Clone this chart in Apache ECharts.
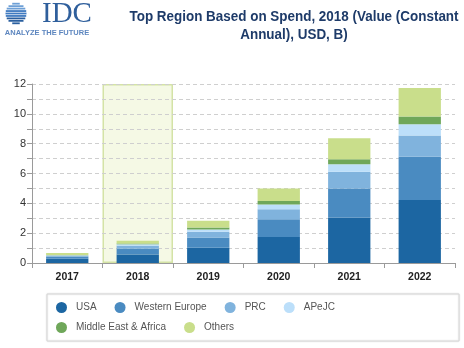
<!DOCTYPE html>
<html>
<head>
<meta charset="utf-8">
<script src="https://cdn.jsdelivr.net/npm/echarts@6/dist/echarts.min.js"></script>
<style>
  html, body { margin: 0; padding: 0; background: #fff; }
  #chart { width: 464px; height: 348px; }
</style>
</head>
<body>
<div id="chart"></div>
<script>
// Spend by region, constant annual USD, billions
const years = ['2017', '2018', '2019', '2020', '2021', '2022'];
const usa           = [0.29, 0.57, 1.03, 1.75, 3.05, 4.22];
const westernEurope = [0.14, 0.38, 0.68, 1.19, 1.95, 2.91];
const prc           = [0.06, 0.21, 0.38, 0.67, 1.12, 1.41];
const apejc         = [0.03, 0.09, 0.16, 0.32, 0.50, 0.77];
const mea           = [0.02, 0.05, 0.13, 0.22, 0.33, 0.51];
const others        = [0.13, 0.20, 0.45, 0.85, 1.42, 1.91];
const highlightYear = '2018';
const yTicks = [0, 2, 4, 6, 8, 10, 12];

const seriesDefs = [
  { name: 'USA', data: usa, color: '#1c66a2' },
  { name: 'Western Europe', data: westernEurope, color: '#4a8bc1' },
  { name: 'PRC', data: prc, color: '#80b3dd' },
  { name: 'APeJC', data: apejc, color: '#bcdffa' },
  { name: 'Middle East & Africa', data: mea, color: '#6fa75a' },
  { name: 'Others', data: others, color: '#c9de8b' }
];

const chart = echarts.init(document.getElementById('chart'), null, { renderer: 'canvas' });

const FONT = 'Liberation Sans, Arial, sans-serif';
const yMax = yTicks[yTicks.length - 1];

// striped globe of the logo
const globe = [];
const gcx = 16, gcy = 13.5, gr = 10.5;
for (let i = -4; i <= 4; i++) {
  const dy = i * 2.45;
  const hw = Math.sqrt(Math.max(0, gr * gr - dy * dy));
  globe.push({
    type: 'rect',
    shape: { x: gcx - hw, y: gcy + dy - 0.9, width: hw * 2, height: 1.8 },
    style: { fill: i < -1 ? '#6d9fd6' : (i < 2 ? '#3f7ac0' : '#2a5f9f') },
    silent: true
  });
}

const bandData = years.map(y => (y === highlightYear ? yMax : '-'));

// title lines, slightly condensed horizontally
function titleLine(text, y) {
  return {
    type: 'text',
    x: 294, y: y,
    scaleX: 0.96,
    style: {
      x: 0, y: 0, text: text,
      fill: '#1e3b69', font: 'bold 14px ' + FONT,
      textAlign: 'center', textVerticalAlign: 'middle'
    }
  };
}

const legendText = { fontSize: 10, color: '#555', fontFamily: FONT, padding: [0, 0, 0, 4] };

const option = {
  animation: false,
  textStyle: { fontFamily: FONT },
  grid: { left: 32, right: 9, top: 84, bottom: 85, containLabel: false },
  legend: [
    {
      data: seriesDefs.slice(0, 4).map(s => s.name),
      left: 56, top: 302, padding: 0, icon: 'circle', itemWidth: 11, itemHeight: 11, itemGap: 18,
      textStyle: legendText
    },
    {
      data: seriesDefs.slice(4).map(s => s.name),
      left: 56, top: 322, padding: 0, icon: 'circle', itemWidth: 11, itemHeight: 11, itemGap: 18,
      textStyle: legendText
    }
  ],
  xAxis: [
    {
      type: 'category',
      data: years,
      axisLine: { lineStyle: { color: '#9a9a9a' } },
      axisTick: { show: true, length: 5, lineStyle: { color: '#9a9a9a' } },
      axisLabel: { color: '#222', fontSize: 10.5, fontWeight: 'bold', margin: 9 }
    },
    {
      type: 'category',
      data: years,
      show: false
    }
  ],
  yAxis: {
    type: 'value',
    min: 0, max: yMax, interval: 2,
    axisLine: { show: true, lineStyle: { color: '#9a9a9a' } },
    axisTick: { show: true, length: 5, lineStyle: { color: '#9a9a9a' } },
    minorTick: { show: true, splitNumber: 2, length: 5, lineStyle: { color: '#9a9a9a' } },
    axisLabel: { color: '#333', fontSize: 11, margin: 6 },
    splitLine: { show: true, lineStyle: { color: '#cfcfcf', type: [4, 3] } },
    minorSplitLine: { show: true, lineStyle: { color: '#cfcfcf', type: [4, 3] } }
  },
  series: [
    {
      name: 'highlight',
      type: 'bar',
      xAxisIndex: 1,
      barWidth: '100%',
      data: bandData,
      z: -1,
      silent: true,
      itemStyle: { color: '#f5f9e5', borderColor: '#d4e3a6', borderWidth: 1.5 }
    }
  ].concat(seriesDefs.map(s => ({
    name: s.name,
    type: 'bar',
    stack: 'spend',
    barWidth: '60%',
    data: s.data,
    itemStyle: { color: s.color }
  }))),
  graphic: [
    titleLine('Top Region Based on Spend, 2018 (Value (Constant', 17),
    titleLine('Annual), USD, B)', 35),
    {
      type: 'rect',
      shape: { x: 47, y: 294, width: 412, height: 47 },
      style: { fill: '#fff', stroke: '#d6d6d6', lineWidth: 1, shadowBlur: 2, shadowColor: 'rgba(0,0,0,0.12)' },
      z: -10,
      silent: true
    },
    {
      type: 'group',
      children: globe.concat([
        {
          type: 'text',
          style: {
            x: 42, y: 14, text: 'IDC',
            fill: '#2f5f9c', font: '29px "Liberation Serif", "DejaVu Serif", serif',
            textVerticalAlign: 'middle'
          }
        },
        {
          type: 'text',
          style: {
            x: 47, y: 33, text: 'ANALYZE THE FUTURE',
            fill: '#5d86bf', font: 'bold 7.5px ' + FONT,
            textAlign: 'center', textVerticalAlign: 'middle'
          }
        }
      ])
    }
  ]
};

chart.setOption(option);
</script>
</body>
</html>
